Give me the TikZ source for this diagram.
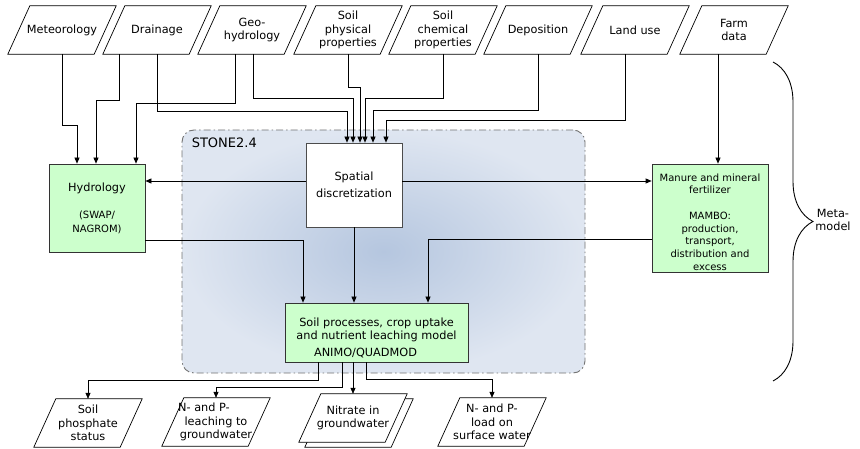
\documentclass[tikz,border=0pt]{standalone}
\usepackage{fontspec}
\setmainfont{DejaVu Sans}
\usetikzlibrary{arrows.meta,positioning,calc,decorations.pathreplacing,backgrounds}

\definecolor{modgreen}{HTML}{CCFFCC}
\definecolor{stonein}{HTML}{B5C6DF}
\definecolor{stoneout}{HTML}{DFE6F1}

\begin{document}
\begin{tikzpicture}[x=1pt, y=-1pt, >={Triangle[length=6pt,width=5pt]},
  font=\fontsize{11.3}{13.5}\selectfont,
  inp/.style={minimum width=86pt, minimum height=48pt, inner sep=0pt, align=center},
  mdl/.style={draw=black!80, fill=modgreen, line width=0.7pt, inner sep=0pt, align=center},
  para/.style={draw, line width=0.7pt, fill=white},
  arr/.style={->, line width=0.7pt},
  small/.style={font=\fontsize{10}{12.7}\selectfont},
  stone/.style={draw=black!55, line width=0.9pt, rounded corners=12pt,
    dash pattern=on 7pt off 3pt on 1.5pt off 3pt,
    inner color=stonein, outer color=stoneout}]
  \useasboundingbox (0,0) rectangle (860,449);

  % STONE2.4 frame
  \node[stone, minimum width=403pt, minimum height=243pt] (stn) at (383.5,251.5) {};
  \node[font=\fontsize{13}{15}\selectfont, anchor=north west, inner sep=0pt] (stnlab)
    at ([xshift=10pt, yshift=-8pt]stn.north west) {STONE2.4};

  % input data
  \node[inp] (met) at (62,30) {Meteorology};
  \node[inp] (drn) at (157,30) {Drainage};
  \node[inp] (geo) at (252,30) {Geo-\\hydrology};
  \node[inp] (sph) at (348,30) {Soil\\physical\\properties};
  \node[inp] (sch) at (443,30) {Soil\\chemical\\properties};
  \node[inp] (dep) at (538,30) {Deposition};
  \node[inp] (lnd) at (635,30) {Land use};
  \node[inp] (frm) at (734,30) {Farm\\data};

  % models
  \node[draw=black!70, fill=white, line width=0.7pt, minimum width=96pt, minimum height=84pt,
    inner sep=0pt, align=center] (spa) at (354,185) {Spatial\\[3pt]discretization};
  \node[mdl, minimum width=96pt, minimum height=88pt] (hyd) at (97,208)
    {Hydrology\\[14pt]{\fontsize{10}{12.5}\selectfont (SWAP/}\\{\fontsize{10}{12.5}\selectfont NAGROM)}};
  \node[mdl, minimum width=116pt, minimum height=108pt] (man) at (710,218) {};
  \node[small, align=center, inner sep=0pt] (mantxt) at ([yshift=-4pt]man.center)
    {Manure and mineral\\fertilizer\\[12.7pt]MAMBO:\\production,\\transport,\\distribution and\\excess};
  \node[mdl, minimum width=183pt, minimum height=59pt] (soi) at (376.5,332.5)
    {\rule{0pt}{19pt}Soil processes, crop uptake\\and nutrient leaching model\\[3.5pt]ANIMO/QUADMOD\hspace*{22pt}};

  % results
  \node[inp] (pho) at (88,423) {Soil\\phosphate\\status};
  \node[inp] (lea) at (216,422) {N- and P-\hspace*{24pt}\\leaching to\\groundwater};
  \node[inp] (nit) at (353,418) {Nitrate in\\groundwater};
  \node[inp] (srf) at (492,422) {N- and P-\\load on\\surface water};

  \begin{scope}[on background layer]
    \draw[para] ([shift={(-5,5)}]nit.south west) -- ([shift={(17,5)}]nit.north west)
      -- ([shift={(17,5)}]nit.north east) -- ([shift={(-5,5)}]nit.south east) -- cycle;
    \foreach \n in {met,drn,geo,sph,sch,dep,lnd,frm,pho,lea,nit,srf}
      \draw[para] ([xshift=-11pt]\n.south west) -- ([xshift=11pt]\n.north west)
        -- ([xshift=11pt]\n.north east) -- ([xshift=-11pt]\n.south east) -- cycle;
  \end{scope}

  % inputs
  \draw[arr] (met.south) -- ++(0,71) -| ([xshift=-20pt]hyd.north);
  \draw[arr] ([xshift=-38pt]drn.south) -- ++(0,46) -| ([xshift=-1pt]hyd.north);
  \draw[arr] ([xshift=-17pt]geo.south) -- ++(0,49) -| ([xshift=39pt]hyd.north);
  \draw[arr] (drn.south) -- ++(0,57) -| ([xshift=-7pt]spa.north);
  \draw[arr] ([xshift=1pt]geo.south) -- ++(0,44) -| ([xshift=-1pt]spa.north);
  \draw[arr] (sph.south) -- ++(0,33) -| ([xshift=6pt]spa.north);
  \draw[arr] (sch.south) -- ++(0,44) -| ([xshift=11pt]spa.north);
  \draw[arr] (dep.south) -- ++(0,56) -| ([xshift=19pt]spa.north);
  \draw[arr] ([xshift=-10pt]lnd.south) -- ++(0,66) -| ([xshift=32pt]spa.north);
  \draw[arr] ([xshift=-16pt]frm.south) -- ([xshift=-16pt]frm.south |- man.north);

  % model links
  \draw[arr] ([yshift=4pt]spa.west) -- ([yshift=4pt]spa.west -| hyd.east);
  \draw[arr] ([yshift=4pt]spa.east) -- ([yshift=4pt]spa.east -| man.west);
  \draw[arr] ([yshift=-32pt]hyd.east) -| ([xshift=-73.5pt]soi.north);
  \draw[arr] (spa.south) -- (spa.south |- soi.north);
  \draw[arr] ([yshift=-21pt]man.west) -| ([xshift=51.5pt]soi.north);

  % outputs
  \draw[arr] ([xshift=-58.5pt]soi.south) -- ++(0,18) -| (pho.north);
  \draw[arr] ([xshift=-34.5pt]soi.south) -- ++(0,25) -| (lea.north);
  \draw[arr] (soi.south -| nit.north) -- (nit.north);
  \draw[arr] ([xshift=-10.5pt]soi.south) -- ++(0,17) -| (srf.north);

  % meta-model brace
  \coordinate (bt) at (773,62);
  \coordinate (bb) at (773,381);
  \draw[line width=0.9pt, decorate, decoration={brace, amplitude=40pt}] (bt) -- (bb);
  \node[align=center] (meta) at (833,220) {Meta-\\model};
\end{tikzpicture}
\end{document}
